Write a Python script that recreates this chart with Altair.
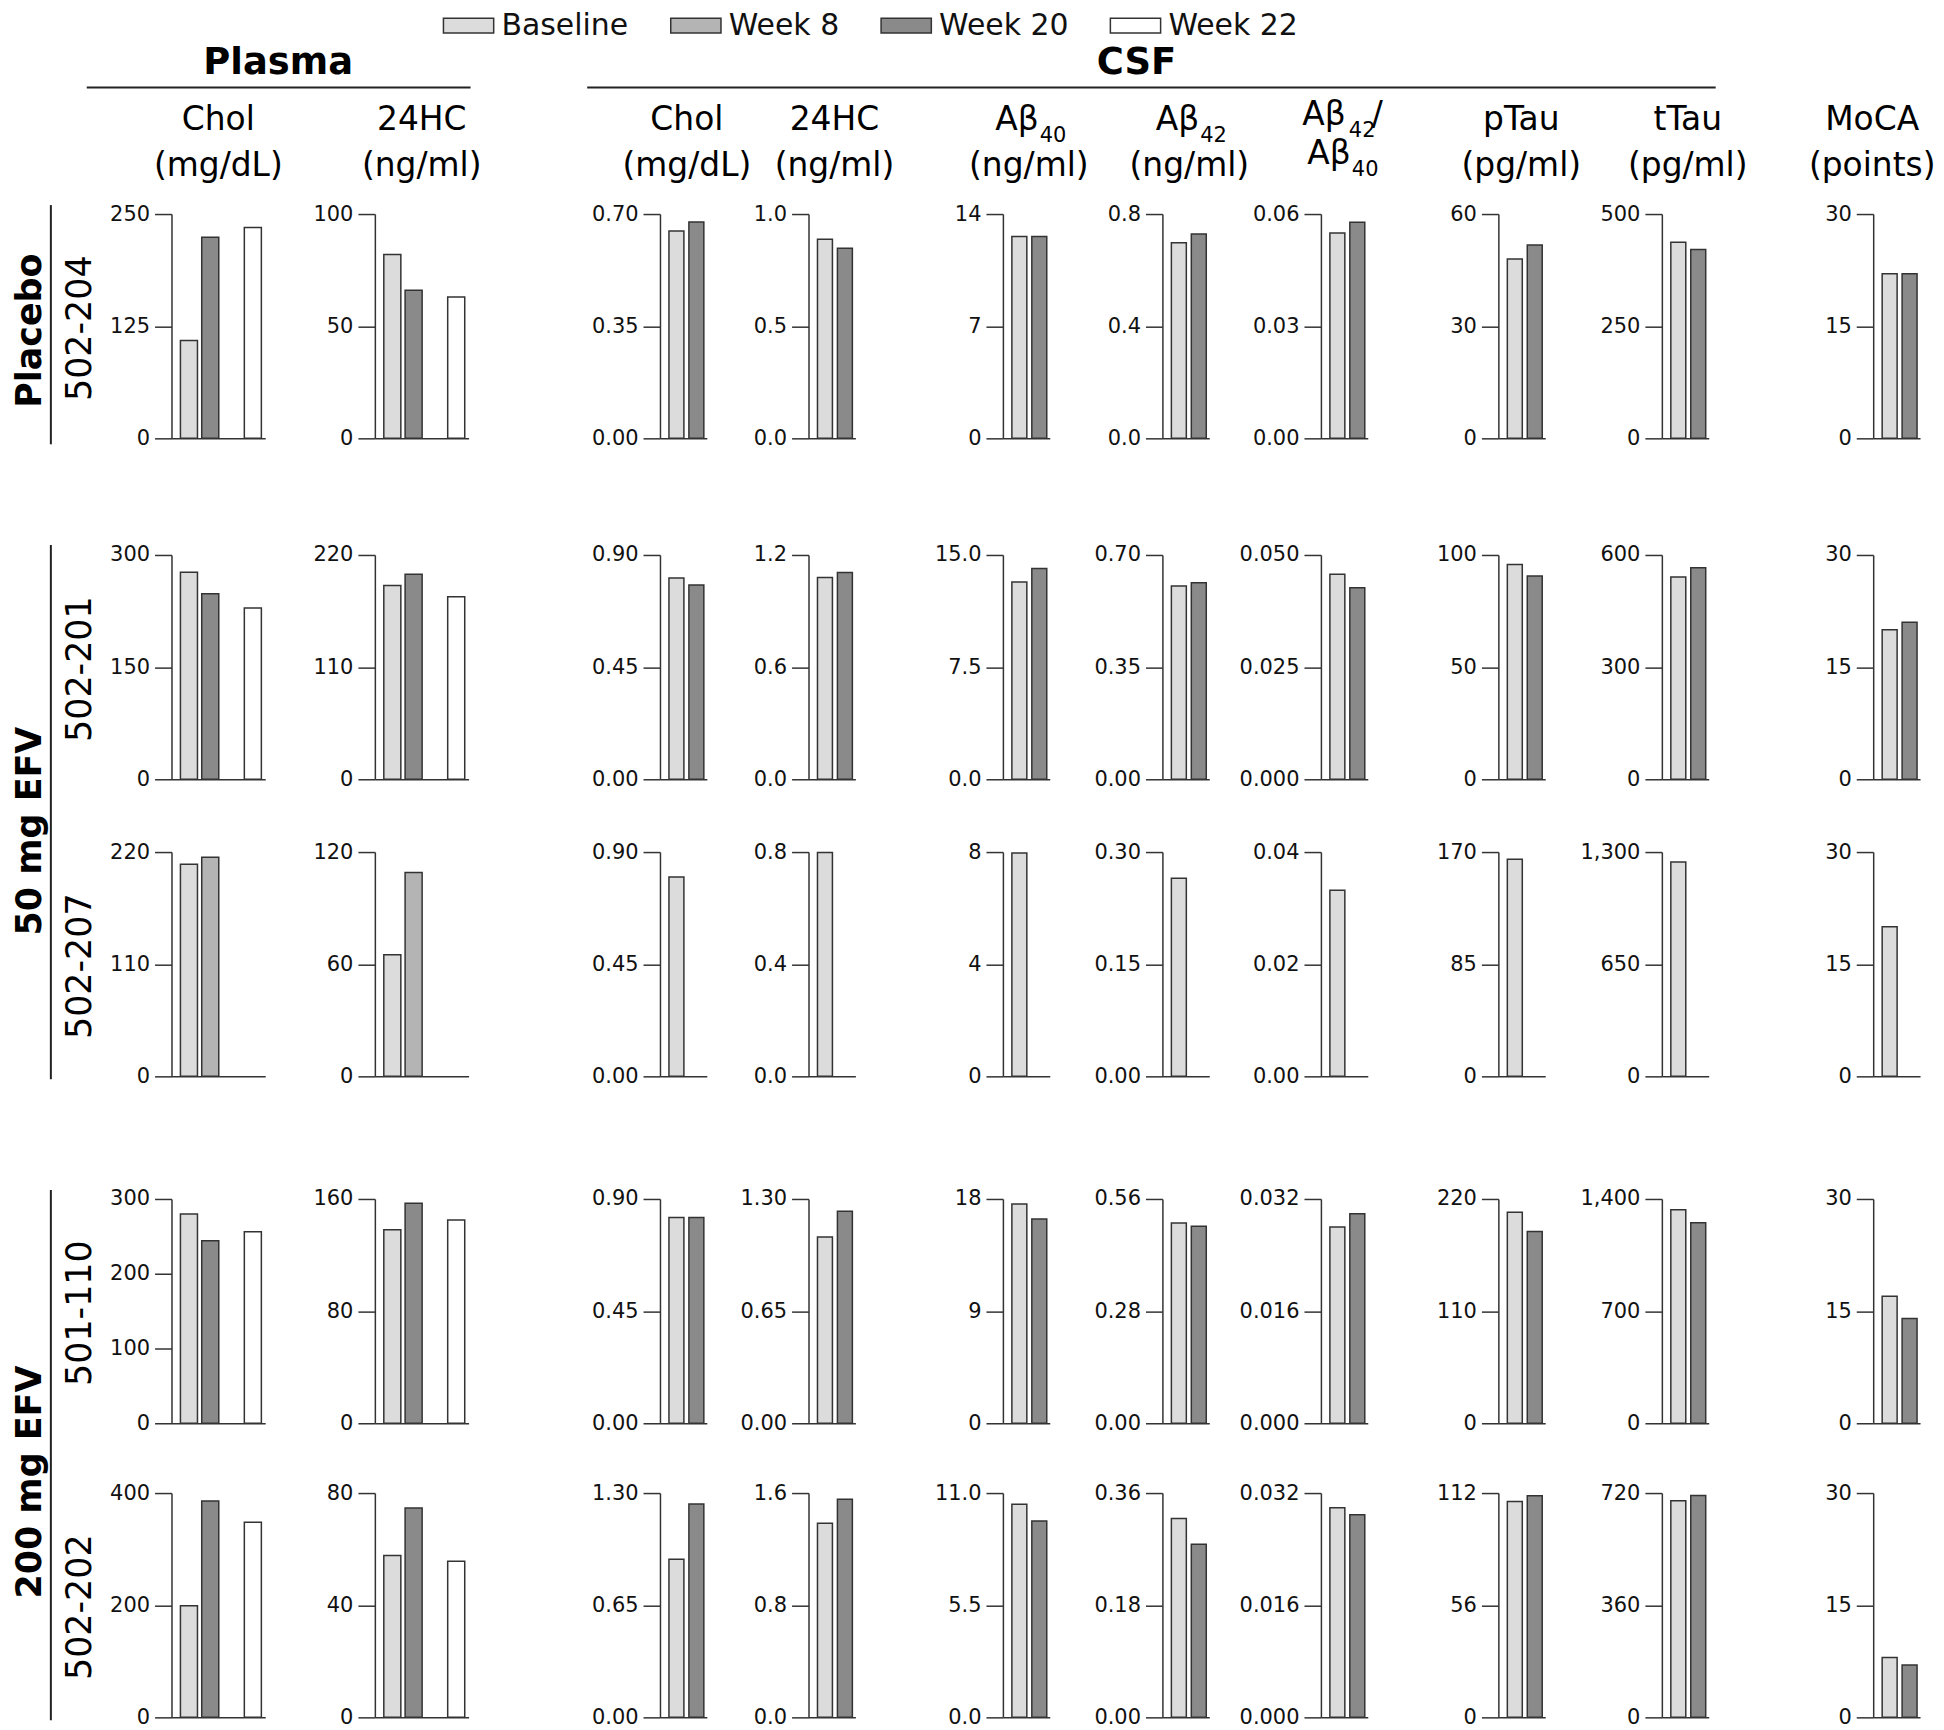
import altair as alt
import pandas as pd

# ---------------- data ----------------
SERIES = ["Baseline", "Week 8", "Week 20", "Week 22"]
SERIES_COLORS = ["#dcdcdc", "#b4b4b4", "#8a8a8a", "#ffffff"]
SERIES_SLOT = [0, 1, 1, 3]

GROUP_NAMES = ["Placebo", "50 mg EFV", "200 mg EFV"]
PATIENTS = ["502-204", "502-201", "502-207", "501-110", "502-202"]

PLASMA_VISITS = [
    ["Baseline", "Week 20", "Week 22"],
    ["Baseline", "Week 20", "Week 22"],
    ["Baseline", "Week 8"],
    ["Baseline", "Week 20", "Week 22"],
    ["Baseline", "Week 20", "Week 22"],
]
CSF_VISITS = [
    ["Baseline", "Week 20"],
    ["Baseline", "Week 20"],
    ["Baseline"],
    ["Baseline", "Week 20"],
    ["Baseline", "Week 20"],
]

# measures: Plasma Chol, Plasma 24HC, CSF Chol, CSF 24HC, Ab40, Ab42, Ab42/Ab40, pTau, tTau, MoCA
VALUES_502_204 = [[109, 224, 235], [82, 66, 63], [0.647, 0.675], [0.888, 0.847], [12.6, 12.6],
                  [0.698, 0.729], [0.0549, 0.0578], [48, 51.7], [437, 421], [22, 22]]
VALUES_502_201 = [[277, 248, 229], [190, 201, 179], [0.808, 0.78], [1.08, 1.106], [13.2, 14.1],
                  [0.603, 0.613], [0.0457, 0.0427], [95.7, 90.6], [541, 566], [20, 21]]
VALUES_502_207 = [[208, 215], [65, 109], [0.80], [0.798], [7.97],
                  [0.265], [0.0332], [164.6], [1243], [20]]
VALUES_501_110 = [[280, 244, 256], [138, 157, 145], [0.826, 0.826], [1.08, 1.229], [17.6, 16.4],
                  [0.50, 0.492], [0.028, 0.0299], [207, 188], [1332, 1252], [17, 14]]
VALUES_502_202 = [[199, 386, 348], [57.7, 74.7, 55.7], [0.917, 1.237], [1.384, 1.556], [10.45, 9.63],
                  [0.319, 0.278], [0.0299, 0.0289], [107.8, 110.7], [695, 712], [8, 7]]
VALUES = [VALUES_502_204, VALUES_502_201, VALUES_502_207, VALUES_501_110, VALUES_502_202]

TICKS_502_204 = [[0, 125, 250], [0, 50, 100], [0, 0.35, 0.70], [0, 0.5, 1.0], [0, 7, 14],
                 [0, 0.4, 0.8], [0, 0.03, 0.06], [0, 30, 60], [0, 250, 500], [0, 15, 30]]
TICKS_502_201 = [[0, 150, 300], [0, 110, 220], [0, 0.45, 0.90], [0, 0.6, 1.2], [0, 7.5, 15.0],
                 [0, 0.35, 0.70], [0, 0.025, 0.050], [0, 50, 100], [0, 300, 600], [0, 15, 30]]
TICKS_502_207 = [[0, 110, 220], [0, 60, 120], [0, 0.45, 0.90], [0, 0.4, 0.8], [0, 4, 8],
                 [0, 0.15, 0.30], [0, 0.02, 0.04], [0, 85, 170], [0, 650, 1300], [0, 15, 30]]
TICKS_501_110 = [[0, 100, 200, 300], [0, 80, 160], [0, 0.45, 0.90], [0, 0.65, 1.30], [0, 9, 18],
                 [0, 0.28, 0.56], [0, 0.016, 0.032], [0, 110, 220], [0, 700, 1400], [0, 15, 30]]
TICKS_502_202 = [[0, 200, 400], [0, 40, 80], [0, 0.65, 1.30], [0, 0.8, 1.6], [0, 5.5, 11.0],
                 [0, 0.18, 0.36], [0, 0.016, 0.032], [0, 56, 112], [0, 360, 720], [0, 15, 30]]
TICKS = [TICKS_502_204, TICKS_502_201, TICKS_502_207, TICKS_501_110, TICKS_502_202]

TICK_FORMATS = [
    ["d", "d", ".2f", ".1f", "d", ".1f", ".2f", "d", "d", "d"],
    ["d", "d", ".2f", ".1f", ".1f", ".2f", ".3f", "d", "d", "d"],
    ["d", "d", ".2f", ".1f", "d", ".2f", ".2f", "d", ",d", "d"],
    ["d", "d", ".2f", ".2f", "d", ".2f", ".3f", "d", ",d", "d"],
    ["d", "d", ".2f", ".1f", ".1f", ".2f", ".3f", "d", "d", "d"],
]

SECTION_TITLES = ["Plasma", "CSF"]
HEAD_CENTER_TEXT = ["Chol", "(mg/dL)", "24HC", "(ng/ml)", "Chol", "(mg/dL)", "24HC", "(ng/ml)",
                    "(ng/ml)", "(ng/ml)", "pTau", "(pg/ml)", "tTau", "(pg/ml)", "MoCA", "(points)"]
HEAD_RIGHT_TEXT = ["Aβ", "Aβ", "Aβ", "Aβ"]
HEAD_SUB_TEXT = ["40", "42", "42", "40"]
HEAD_LEFT_TEXT = ["/"]

# ---------------- layout ----------------
FONT = "DejaVu Sans"
PANEL_H = 225
PANEL_W = [94, 94, 47, 47, 47, 47, 47, 47, 47, 47]
COL_GAPS = [110, 192, 102, 148, 113, 112, 131, 117, 165]
ROW_GAPS = [117, 73, 123, 70]
LEFT_W = 164
HEADER_H = 204
ROW_TOPS = [0]
for g in ROW_GAPS:
    ROW_TOPS.append(ROW_TOPS[-1] + PANEL_H + g)

L1, L2 = 120, 166
HEAD_CENTER_POS = [(211, L1), (211, L2), (415, L1), (415, L2), (681, L1), (681, L2),
                   (829, L1), (829, L2), (1024, L2), (1185, L2), (1518, L1), (1518, L2),
                   (1685, L1), (1685, L2), (1870, L1), (1870, L2)]
HEAD_RIGHT_POS = [(1034, L1), (1195, L1), (1342, 115), (1347, 154)]
HEAD_SUB_POS = [(1035, L1 + 12), (1196, L1 + 12), (1345, 127), (1348, 166)]
HEAD_LEFT_POS = [(1368, 115)]
SECTION_POS = [(271, 64), (1132, 64)]
SECTION_RULES = [(79, 464, 77), (581, 1713, 77)]

GROUP_POS = [(33, 117), (33, 619), (33, 1272)]
GROUP_RULES = [(43, -9, 231), (43, 332, 868), (43, 979, 1511)]
PATIENT_X = 83

EDGE = "#333333"

LEGEND = alt.Legend(
    orient="none", legendX=447, legendY=0, direction="horizontal", title=None,
    symbolType="M-2.8,-0.83H2.8V0.83H-2.8Z", symbolSize=324,
    symbolStrokeColor=EDGE, symbolStrokeWidth=1.5, symbolOpacity=1,
    labelFontSize=30, labelOffset=18, columnPadding=38, padding=0,
    labelColor="#111111", labelFont=FONT,
)


def panel(r, m):
    visits = PLASMA_VISITS[r] if m < 2 else CSF_VISITS[r]
    df = pd.DataFrame({
        "visit": visits,
        "slot": [SERIES_SLOT[SERIES.index(v)] for v in visits],
        "value": VALUES[r][m],
    })
    ticks = TICKS[r][m]
    if m < 2:
        xs = alt.Scale(domain=[0, 1, 2, 3], paddingInner=0.2, paddingOuter=0.3, align=0.7)
    else:
        xs = alt.Scale(domain=[0, 1], paddingInner=0.25, paddingOuter=0.3, align=0.75)
    return alt.Chart(df).mark_bar(stroke=EDGE, strokeWidth=1.5).encode(
        x=alt.X("slot:O", scale=xs,
                axis=alt.Axis(title=None, labels=False, ticks=False, domain=True)),
        y=alt.Y("value:Q", scale=alt.Scale(domain=[0, ticks[-1]], nice=False, zero=True),
                axis=alt.Axis(values=ticks, format=TICK_FORMATS[r][m], title=None, grid=False,
                              tickSize=17, labelPadding=5)),
        color=alt.Color("visit:N", scale=alt.Scale(domain=SERIES, range=SERIES_COLORS), legend=LEGEND),
    ).properties(width=PANEL_W[m], height=PANEL_H)


SPACER_DATA = pd.DataFrame({"v": [0]})


def spacer(w, h):
    # an empty cell: its data is filtered out, so it draws nothing
    return alt.Chart(SPACER_DATA).mark_point().encode(
        x=alt.value(0), y=alt.value(0)).transform_filter("false").properties(width=w, height=h)


XN = lambda f: alt.X(f, scale=None, axis=None)
YN = lambda f: alt.Y(f, scale=None, axis=None)

# ---------- left annotations ----------
group_df = pd.DataFrame({"label": GROUP_NAMES,
                         "x": [p[0] for p in GROUP_POS], "y": [p[1] for p in GROUP_POS]})
grule_df = pd.DataFrame({"x": [g[0] for g in GROUP_RULES], "y": [g[1] for g in GROUP_RULES],
                         "y2": [g[2] for g in GROUP_RULES]})
pat_df = pd.DataFrame({"label": PATIENTS, "x": [PATIENT_X] * 5,
                       "y": [t + PANEL_H / 2 + 2 for t in ROW_TOPS]})

left = alt.layer(
    alt.Chart(group_df).mark_text(fontSize=35, fontWeight="bold", angle=270, baseline="alphabetic",
                                  align="center", color="#000000").encode(
        x=XN("x:Q"), y=YN("y:Q"), text="label:N"),
    alt.Chart(pat_df).mark_text(fontSize=35, angle=270, baseline="alphabetic",
                                align="center", color="#000000").encode(
        x=XN("x:Q"), y=YN("y:Q"), text="label:N"),
    alt.Chart(grule_df).mark_rule(color="#222222", strokeWidth=2).encode(
        x=XN("x:Q"), y=YN("y:Q"), y2="y2:Q"),
).properties(width=LEFT_W, height=PANEL_H)

# ---------- header ----------
def tdf(texts, pos):
    return pd.DataFrame({"label": texts, "x": [p[0] for p in pos], "y": [p[1] for p in pos]})


sec_df = tdf(SECTION_TITLES, SECTION_POS)
srule_df = pd.DataFrame({"x": [s[0] for s in SECTION_RULES], "x2": [s[1] for s in SECTION_RULES],
                         "y": [s[2] for s in SECTION_RULES]})

header = alt.layer(
    alt.Chart(sec_df).mark_text(fontSize=37, fontWeight="bold", baseline="alphabetic",
                                align="center", color="#000000").encode(
        x=XN("x:Q"), y=YN("y:Q"), text="label:N"),
    alt.Chart(srule_df).mark_rule(color="#222222", strokeWidth=2).encode(
        x=XN("x:Q"), x2="x2:Q", y=YN("y:Q")),
    alt.Chart(tdf(HEAD_CENTER_TEXT, HEAD_CENTER_POS)).mark_text(
        fontSize=33, baseline="alphabetic", align="center", color="#000000").encode(
        x=XN("x:Q"), y=YN("y:Q"), text="label:N"),
    alt.Chart(tdf(HEAD_RIGHT_TEXT, HEAD_RIGHT_POS)).mark_text(
        fontSize=33, baseline="alphabetic", align="right", color="#000000").encode(
        x=XN("x:Q"), y=YN("y:Q"), text="label:N"),
    alt.Chart(tdf(HEAD_SUB_TEXT, HEAD_SUB_POS)).mark_text(
        fontSize=21, baseline="alphabetic", align="left", color="#000000").encode(
        x=XN("x:Q"), y=YN("y:Q"), text="label:N"),
    alt.Chart(tdf(HEAD_LEFT_TEXT, HEAD_LEFT_POS)).mark_text(
        fontSize=33, baseline="alphabetic", align="left", color="#000000").encode(
        x=XN("x:Q"), y=YN("y:Q"), text="label:N"),
).properties(width=LEFT_W, height=HEADER_H)

# ---------- flat grid: 20 columns ----------
NCOLS = 1 + 10 + 9
cells = [header] + [spacer(1, 1) for _ in range(NCOLS - 1)]
for r in range(5):
    cells.append(left if r == 0 else spacer(1, 1))
    for m in range(10):
        if m > 0:
            cells.append(spacer(COL_GAPS[m - 1], 1))
        cells.append(panel(r, m))
    if r < 4:
        cells.append(spacer(1, ROW_GAPS[r]))
        cells.extend(spacer(1, 1) for _ in range(NCOLS - 1))

chart = alt.concat(*cells, columns=NCOLS, spacing=0, bounds="flush", align="each").properties(
    padding=0, background="#ffffff"
).configure(font=FONT).configure_view(stroke=None).configure_axis(
    domainColor=EDGE, domainWidth=1.5, tickColor=EDGE, tickWidth=1.5,
    labelFontSize=21, labelColor="#111111", labelFont=FONT,
)

chart.save("out.html", embed_options={"renderer": "svg", "actions": False})
